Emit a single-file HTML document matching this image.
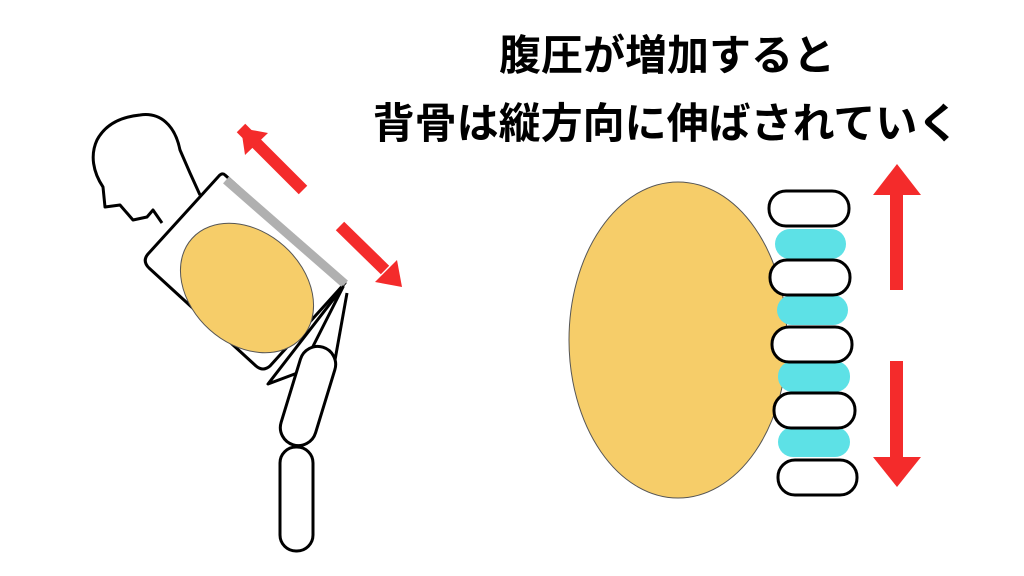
<!DOCTYPE html>
<html><head><meta charset="utf-8"><style>
html,body{margin:0;padding:0;background:#fff;}
svg{display:block;}
</style></head><body>
<svg width="1024" height="576" viewBox="0 0 1024 576" xmlns="http://www.w3.org/2000/svg">
<rect width="1024" height="576" fill="#fff"/>
<g font-family="'Liberation Sans','Noto Sans CJK JP',sans-serif" font-weight="bold" font-size="42" fill="#000" text-anchor="middle">
<text x="667" y="70">腹圧が増加すると</text>
<text x="666" y="138">背骨は縦方向に伸ばされていく</text>
</g>
<!-- head -->
<path d="M200,195 L190,173 L180,150 C175,125 160,112 140,115 C120,117 105,125 97,140 C90,155 93,172 103,187 L105,207 L120,205 L133,220 L147,217 L153,210 L162,223" fill="none" stroke="#000" stroke-width="3" stroke-linejoin="round"/>
<!-- torso -->
<path d="M225,175 L345,283 L270,366 Q263,372 256,366 L149,268 Q142,261 148,254 L218,177 Q222,172 225,175 Z" fill="#fff" stroke="#000" stroke-width="3" stroke-linejoin="round"/>
<line x1="226" y1="180" x2="345" y2="284" stroke="#b0b0b0" stroke-width="9"/>
<ellipse cx="247" cy="288" rx="74" ry="56" transform="rotate(42 247 288)" fill="#f6cd69" stroke="#555" stroke-width="1"/>
<!-- pelvis -->
<path d="M343,287 L268,384 L300,372 Z" fill="#fff" stroke="#000" stroke-width="3" stroke-linejoin="round"/>
<path d="M347,293 L335,360" stroke="#000" stroke-width="3"/>
<!-- thigh -->
<rect x="290" y="345" width="36" height="102" rx="18" transform="rotate(17 308 396)" fill="#fff" stroke="#000" stroke-width="3"/>
<!-- shin -->
<rect x="280" y="447" width="33" height="104" rx="16" fill="#fff" stroke="#000" stroke-width="3"/>
<!-- left arrows -->
<g fill="#f42b2b">
<path d="M303,190 L241,128" stroke="#f42b2b" stroke-width="12"/>
<polygon points="241,128 268,133 245,155"/>
<path d="M340,226 L385,270" stroke="#f42b2b" stroke-width="12"/>
<polygon points="402,287 375,282 397,260"/>
</g>
<!-- right: ellipse -->
<ellipse cx="678" cy="340" rx="109" ry="158" fill="#f6cd69" stroke="#555" stroke-width="1"/>
<g fill="#5de1e6">
<rect x="775" y="229" width="71" height="30" rx="15"/>
<rect x="777" y="295" width="71" height="30" rx="15"/>
<rect x="778" y="361" width="72" height="31" rx="15"/>
<rect x="778" y="427" width="72" height="30" rx="15"/>
</g>
<g fill="#fff" stroke="#000" stroke-width="3">
<rect x="769" y="191" width="80" height="35" rx="17"/>
<rect x="770" y="260" width="80" height="35" rx="17"/>
<rect x="772" y="327" width="80" height="35" rx="17"/>
<rect x="774" y="393" width="81" height="35" rx="17"/>
<rect x="778" y="460" width="79" height="35" rx="17"/>
</g>
<g fill="#f42b2b">
<rect x="890" y="193" width="13" height="97"/>
<polygon points="897,164 921,195 873,195"/>
<rect x="890" y="361" width="13" height="98"/>
<polygon points="897,487 921,457 873,457"/>
</g>
</svg>
</body></html>
